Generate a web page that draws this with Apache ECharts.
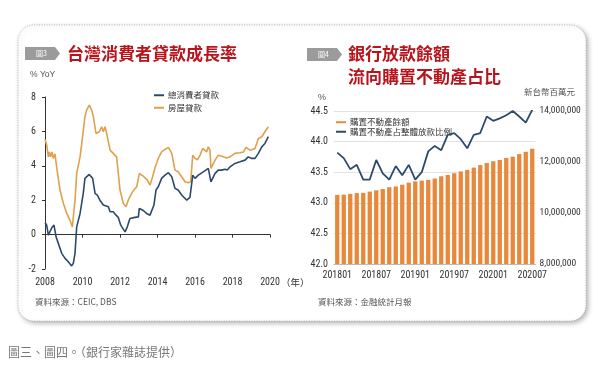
<!DOCTYPE html>
<html>
<head>
<meta charset="utf-8">
<script src="https://cdn.jsdelivr.net/npm/echarts@6/dist/echarts.min.js"></script>
<style>
html,body{margin:0;padding:0;background:#fff;}
#c{width:600px;height:373px;}
</style>
</head>
<body>
<div id="c"></div>
<script>
// ---- Chart 3: consumer loan growth (% YoY) ----
const leftTitle = '台灣消費者貸款成長率';
const leftSeriesNames = ['總消費者貸款', '房屋貸款'];
const leftYTicks = [-2, 0, 2, 4, 6, 8];
const leftXTicks = [2008, 2010, 2012, 2014, 2016, 2018, 2020];

const consumerYears = [2008.00,2008.09,2008.18,2008.36,2008.48,2008.59,2008.71,2008.89,2009.07,2009.24,2009.42,2009.51,2009.60,2009.69,2009.87,2010.04,2010.13,2010.36,2010.54,2010.67,2010.79,2010.93,2011.11,2011.20,2011.38,2011.47,2011.64,2011.79,2011.91,2012.04,2012.27,2012.39,2012.53,2012.80,2012.98,2013.03,2013.24,2013.42,2013.60,2013.81,2013.92,2014.04,2014.22,2014.40,2014.58,2014.76,2014.93,2015.10,2015.29,2015.56,2015.73,2015.88,2016.00,2016.18,2016.44,2016.71,2016.80,2016.85,2017.07,2017.24,2017.42,2017.60,2017.72,2017.87,2017.96,2018.13,2018.40,2018.67,2018.84,2019.02,2019.20,2019.38,2019.56,2019.73,2019.91];
const consumerValues = [0.70,0.55,-0.03,0.40,0.55,-0.13,-0.51,-1.09,-1.38,-1.58,-1.82,-1.67,-1.09,0.45,1.23,2.40,3.27,3.50,3.27,2.40,2.30,2.00,1.72,1.80,1.62,1.33,1.33,1.13,1.00,0.55,0.16,0.45,0.94,1.00,1.03,1.52,1.40,1.23,1.13,1.72,2.59,2.78,3.27,3.46,3.60,3.36,2.69,2.59,2.30,2.00,2.16,3.46,3.27,3.46,3.65,3.85,3.85,3.07,3.56,3.75,3.75,3.80,3.75,3.94,3.85,4.14,4.23,4.33,4.52,4.43,4.43,4.72,5.10,5.30,5.69];

const mortgageYears = [2008.00,2008.09,2008.18,2008.23,2008.30,2008.37,2008.44,2008.53,2008.62,2008.80,2008.98,2009.16,2009.33,2009.46,2009.60,2009.69,2009.87,2009.96,2010.13,2010.22,2010.36,2010.49,2010.58,2010.72,2010.90,2011.02,2011.11,2011.20,2011.29,2011.47,2011.64,2011.82,2012.00,2012.18,2012.32,2012.44,2012.62,2012.71,2012.89,2013.03,2013.24,2013.46,2013.60,2013.74,2013.87,2014.04,2014.22,2014.40,2014.58,2014.76,2014.93,2015.10,2015.29,2015.47,2015.64,2015.77,2015.88,2016.00,2016.13,2016.27,2016.41,2016.62,2016.71,2016.80,2016.85,2017.07,2017.24,2017.51,2017.69,2017.87,2018.13,2018.40,2018.58,2018.72,2018.93,2019.20,2019.38,2019.56,2019.73,2019.91];
const mortgageValues = [5.55,5.20,4.52,4.81,4.52,4.81,4.43,4.70,3.94,2.59,1.81,1.23,0.84,0.45,2.00,3.56,4.52,5.30,6.85,7.24,7.53,7.24,6.85,5.88,5.98,6.27,5.98,6.27,5.88,4.91,4.72,4.52,2.59,1.81,1.62,2.00,2.40,2.55,2.78,3.55,3.40,3.17,2.88,3.36,3.90,4.43,4.81,4.95,5.07,4.72,3.75,3.65,3.36,3.07,3.01,3.07,4.62,4.43,4.35,4.62,5.01,4.81,5.10,4.91,3.85,4.33,4.62,4.52,4.45,4.52,4.72,4.76,4.80,5.07,4.91,5.01,5.59,5.69,5.98,6.27];

// ---- Chart 4: bank loans to real estate purchase ----
const rightTitle1 = '銀行放款餘額';
const rightTitle2 = '流向購置不動產占比';
const rightSeriesNames = ['購置不動產餘額', '購置不動產占整體放款比例'];
const months = ['201801','201802','201803','201804','201805','201806','201807','201808','201809','201810','201811','201812','201901','201902','201903','201904','201905','201906','201907','201908','201909','201910','201911','201912','202001','202002','202003','202004','202005','202006','202007'];
const balance = [10710000,10720000,10750000,10780000,10790000,10840000,10890000,10940000,11010000,11040000,11110000,11190000,11240000,11270000,11300000,11350000,11440000,11490000,11560000,11630000,11690000,11780000,11880000,11960000,12030000,12080000,12160000,12210000,12310000,12400000,12520000];
const ratio = [43.82,43.73,43.55,43.62,43.38,43.38,43.70,43.48,43.38,43.60,43.45,43.62,43.38,43.50,43.84,43.93,43.86,44.11,44.14,44.04,43.89,44.11,44.14,44.41,44.34,44.38,44.43,44.50,44.41,44.31,44.52];

const NARROW = '"Liberation Sans Narrow","Roboto Condensed","Liberation Sans",sans-serif';
const CJK = '"Noto Sans CJK TC","Noto Sans CJK SC",sans-serif';

const chart = echarts.init(document.getElementById('c'), null, {renderer: 'canvas'});

function badge(x, y, label) {
  return [
    {type: 'polygon', shape: {points: [[x, y], [x + 30, y], [x + 35, y + 6.5], [x + 30, y + 13], [x, y + 13]]},
     style: {fill: '#9b9b9b'}, z: 10},
    {type: 'text', x: x + 11, y: y + 6.5, style: {text: label, fill: '#fff', font: '7px ' + CJK, verticalAlign: 'middle'}, z: 11}
  ];
}

const option = {
  backgroundColor: '#fff',
  animation: false,
  graphic: [
    {type: 'rect', shape: {x: 18, y: 25, width: 568, height: 296, r: 16},
     style: {fill: '#fff', stroke: '#b8b8b8', lineWidth: 1, lineDash: [1, 1.5],
             shadowBlur: 5, shadowOffsetX: 2, shadowOffsetY: 2, shadowColor: 'rgba(0,0,0,0.3)'}, z: -10},
    ...badge(25, 47, '圖3'),
    ...badge(307, 48, '圖4'),
    {type: 'text', x: 67, y: 54, style: {text: leftTitle, fill: '#b8141c', font: 'bold 17px ' + CJK, verticalAlign: 'middle'}, z: 10},
    {type: 'text', x: 348, y: 54, style: {text: rightTitle1, fill: '#b8141c', font: 'bold 17px ' + CJK, verticalAlign: 'middle'}, z: 10},
    {type: 'text', x: 348, y: 77, style: {text: rightTitle2, fill: '#b8141c', font: 'bold 17px ' + CJK, verticalAlign: 'middle'}, z: 10},
    {type: 'text', x: 30, y: 75, style: {text: '% YoY', fill: '#555', font: '8.5px "Liberation Sans",sans-serif', verticalAlign: 'middle'}, z: 10},
    {type: 'text', x: 281, y: 282, style: {text: '（年）', fill: '#333', font: '9.5px ' + CJK, verticalAlign: 'middle'}, z: 10},
    {type: 'text', x: 35, y: 302, style: {text: '資料來源：CEIC, DBS', fill: '#555', font: '8.5px ' + CJK, verticalAlign: 'middle'}, z: 10},
    {type: 'text', x: 318, y: 98, style: {text: '%', fill: '#555', font: '9px "Liberation Sans",sans-serif', verticalAlign: 'middle'}, z: 10},
    {type: 'text', x: 524, y: 92, style: {text: '新台幣百萬元', fill: '#555', font: '8.5px ' + CJK, verticalAlign: 'middle'}, z: 10},
    {type: 'text', x: 318, y: 302, style: {text: '資料來源：金融統計月報', fill: '#555', font: '8.5px ' + CJK, verticalAlign: 'middle'}, z: 10},
    {type: 'text', x: 8, y: 352, style: {text: '圖三、圖四。（銀行家雜誌提供）', fill: '#777', font: '12px ' + CJK, verticalAlign: 'middle'}, z: 10}
  ],
  legend: [
    {orient: 'vertical', left: 149, top: 86, itemWidth: 10, itemHeight: 2, itemGap: 4, icon: 'rect',
     data: leftSeriesNames, textStyle: {fontSize: 8.5, color: '#333', fontFamily: CJK, padding: [0, 0, 0, -1]}},
    {orient: 'vertical', left: 331, top: 113, itemWidth: 10, itemHeight: 2, itemGap: 1, icon: 'rect',
     data: rightSeriesNames, textStyle: {fontSize: 8.5, color: '#333', fontFamily: CJK, padding: [0, 0, 0, -1]}}
  ],
  grid: [
    {left: 45, top: 97, width: 225, height: 172, containLabel: false},
    {left: 334, top: 111, width: 201.5, height: 153, containLabel: false}
  ],
  xAxis: [
    {type: 'value', gridIndex: 0, min: leftXTicks[0], max: leftXTicks[leftXTicks.length - 1], interval: 2,
     axisLine: {show: false, onZero: false}, axisTick: {show: false}, splitLine: {show: false},
     axisLabel: {color: '#333', fontSize: 10, fontFamily: NARROW, margin: 8, formatter: v => String(v)}},
    {type: 'value', gridIndex: 0, position: 'bottom', min: leftXTicks[0], max: leftXTicks[leftXTicks.length - 1], interval: 2,
     axisLine: {show: true, onZero: true, lineStyle: {color: '#333', width: 1}},
     axisTick: {show: true, length: 3, lineStyle: {color: '#333'}},
     axisLabel: {show: false}, splitLine: {show: false}},
    {type: 'category', gridIndex: 1, data: months, boundaryGap: true,
     axisLine: {show: true, lineStyle: {color: '#bbb'}}, axisTick: {show: false},
     axisLabel: {interval: 5, color: '#333', fontSize: 10, fontFamily: NARROW, margin: 6}}
  ],
  yAxis: [
    {type: 'value', gridIndex: 0, min: leftYTicks[0], max: leftYTicks[leftYTicks.length - 1], interval: 2,
     axisLine: {show: true, lineStyle: {color: '#333', width: 1}},
     axisTick: {show: true, length: 3, lineStyle: {color: '#333'}},
     axisLabel: {color: '#333', fontSize: 10, fontFamily: NARROW, margin: 9}, splitLine: {show: false}},
    {type: 'value', gridIndex: 1, min: 42, max: 44.5, interval: 0.5, position: 'left',
     axisLine: {show: false}, axisTick: {show: false},
     axisLabel: {color: '#333', fontSize: 10, fontFamily: NARROW, margin: 6, formatter: v => v.toFixed(1)},
     splitLine: {show: true, lineStyle: {color: '#e2e2e2', width: 1}}},
    {type: 'value', gridIndex: 1, min: 8000000, max: 14000000, interval: 2000000, position: 'right',
     axisLine: {show: false}, axisTick: {show: false},
     axisLabel: {color: '#333', fontSize: 9.5, fontFamily: NARROW, margin: 4}, splitLine: {show: false}}
  ],
  series: [
    {name: leftSeriesNames[0], type: 'line', xAxisIndex: 0, yAxisIndex: 0, showSymbol: false,
     data: consumerYears.map((y, i) => [y, consumerValues[i]]),
     lineStyle: {color: '#2d4a6c', width: 1.6}, itemStyle: {color: '#2d4a6c'}, z: 4},
    {name: leftSeriesNames[1], type: 'line', xAxisIndex: 0, yAxisIndex: 0, showSymbol: false,
     data: mortgageYears.map((y, i) => [y, mortgageValues[i]]),
     lineStyle: {color: '#e0a04e', width: 1.6}, itemStyle: {color: '#e0a04e'}, z: 3},
    {name: rightSeriesNames[0], type: 'bar', xAxisIndex: 2, yAxisIndex: 2, data: balance,
     barWidth: '66%', itemStyle: {color: '#e8883a'}, z: 2},
    {name: rightSeriesNames[1], type: 'line', xAxisIndex: 2, yAxisIndex: 1, data: ratio, showSymbol: false,
     lineStyle: {color: '#2d4a6c', width: 1.8}, itemStyle: {color: '#2d4a6c'}, z: 4}
  ]
};
chart.setOption(option);
</script>
</body>
</html>
